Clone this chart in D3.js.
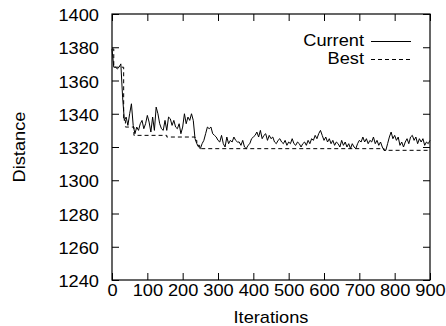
<!DOCTYPE html>
<html>
<head>
<meta charset="utf-8">
<script src="https://cdn.jsdelivr.net/npm/d3@7"></script>
<style>
  html, body { margin: 0; padding: 0; background: #fff; }
  text { font-family: "Liberation Sans", Arial, Helvetica, sans-serif; }
</style>
</head>
<body>
<div id="chart"></div>
<script>
const iterTicks = [0, 100, 200, 300, 400, 500, 600, 700, 800, 900];
const distTicks = [1240, 1260, 1280, 1300, 1320, 1340, 1360, 1380, 1400];

// current distance, sampled every 5 iterations
const currentIters = d3.range(0, 901, 5);
const currentValues = [
    1379, 1368, 1368, 1367, 1368, 1370, 1350, 1336, 1338, 1333,
    1340, 1346, 1333, 1328, 1332, 1330, 1334, 1336, 1331, 1334,
    1339, 1335, 1329, 1338, 1330, 1344, 1340, 1334, 1331, 1330,
    1336, 1330, 1338, 1337, 1333, 1336, 1332, 1331, 1334, 1328,
    1332, 1340, 1334, 1338, 1336, 1340, 1336, 1325, 1322, 1320,
    1319, 1322, 1324, 1328, 1332, 1331, 1332, 1328, 1327, 1326,
    1324, 1323, 1327, 1322, 1320, 1326, 1322, 1324, 1323, 1326,
    1324, 1323, 1323, 1321, 1324, 1320, 1319, 1321, 1322, 1325,
    1326, 1327, 1329, 1326, 1330, 1325, 1327, 1328, 1324, 1327,
    1325, 1326, 1323, 1322, 1324, 1325, 1323, 1322, 1324, 1321,
    1323, 1322, 1325, 1322, 1321, 1323, 1322, 1320, 1322, 1323,
    1321, 1324, 1322, 1325, 1324, 1327, 1325, 1328, 1330, 1327,
    1324, 1326, 1323, 1325, 1322, 1324, 1321, 1323, 1322, 1320,
    1324, 1321, 1323, 1320, 1322, 1319, 1322, 1320, 1319, 1322,
    1324, 1323, 1326, 1323, 1325, 1322, 1324, 1323, 1326, 1322,
    1324, 1321, 1323, 1320, 1318, 1318, 1322, 1326, 1329, 1325,
    1327, 1324, 1326, 1321, 1323, 1320, 1323, 1325, 1322, 1326,
    1327, 1324, 1326, 1322, 1325, 1323, 1325, 1321, 1323, 1322,
    1324
];

// best distance so far (step changes)
const bestIters = [0, 5, 33, 38, 62, 155, 235, 240, 248, 770, 900];
const bestValues = [1379, 1368, 1336, 1332, 1327, 1326, 1324, 1321, 1319, 1318, 1318];

const W = 446, H = 326;
const margin = { top: 14, right: 16, bottom: 46, left: 112 };
const width = W - margin.left - margin.right;
const height = H - margin.top - margin.bottom;
const stretch = "scale(1.14,1)";

const svg = d3.select("#chart")
    .append("svg")
    .attr("width", W)
    .attr("height", H)
    .append("g")
    .attr("transform", "translate(" + margin.left + "," + margin.top + ")");

const x = d3.scaleLinear().domain([0, 900]).range([0, width]);
const y = d3.scaleLinear().domain([1240, 1400]).range([height, 0]);

// axes, ticks pointing inwards on all four sides
const xAxis = svg.append("g")
    .attr("transform", "translate(0," + height + ")")
    .call(d3.axisBottom(x).tickValues(iterTicks).tickSizeInner(-7).tickSizeOuter(0).tickFormat(d3.format("d")));
xAxis.selectAll("text")
    .attr("y", 16).attr("dy", null)
    .attr("transform", stretch);

svg.append("g")
    .call(d3.axisTop(x).tickValues(iterTicks).tickSizeInner(-7).tickSizeOuter(0).tickFormat(""));

const yAxis = svg.append("g")
    .call(d3.axisLeft(y).tickValues(distTicks).tickSizeInner(-7).tickSizeOuter(0).tickFormat(d3.format("d")));
yAxis.selectAll("text")
    .attr("x", -13 / 1.14).attr("dy", null).attr("y", 6.5)
    .attr("transform", stretch);

svg.append("g")
    .attr("transform", "translate(" + width + ",0)")
    .call(d3.axisRight(y).tickValues(distTicks).tickSizeInner(-7).tickSizeOuter(0).tickFormat(""));

svg.selectAll(".domain").remove();
svg.selectAll(".tick line").attr("stroke", "#000");
svg.selectAll(".tick text").style("font-size", "16px").attr("fill", "#000");

svg.append("rect")
    .attr("width", width)
    .attr("height", height)
    .attr("fill", "none")
    .attr("stroke", "#000")
    .attr("stroke-width", 1.2);

// axis labels
svg.append("text")
    .attr("transform", "translate(" + (width / 2) + "," + (H - margin.top - 3) + ") " + stretch)
    .attr("text-anchor", "middle")
    .style("font-size", "16px")
    .text("Iterations");

svg.append("text")
    .attr("transform", "translate(" + (25 - margin.left) + "," + (height / 2) + ") rotate(-90) " + stretch)
    .attr("text-anchor", "middle")
    .style("font-size", "16px")
    .text("Distance");

// series
const lineCur = d3.line()
    .x((d, i) => x(currentIters[i]))
    .y(d => y(d));

svg.append("path")
    .datum(currentValues)
    .attr("fill", "none")
    .attr("stroke", "#000")
    .attr("stroke-width", 1)
    .attr("d", lineCur);

const lineBest = d3.line()
    .x((d, i) => x(bestIters[i]))
    .y(d => y(d))
    .curve(d3.curveStepAfter);

svg.append("path")
    .datum(bestValues)
    .attr("fill", "none")
    .attr("stroke", "#000")
    .attr("stroke-width", 1)
    .attr("stroke-dasharray", "4,3")
    .attr("d", lineBest);

// legend
const legend = [
    { label: "Current", dash: null, yPos: 28 },
    { label: "Best", dash: "4,3", yPos: 46 }
];
legend.forEach(l => {
    svg.append("text")
        .attr("transform", "translate(" + (364 - margin.left) + "," + (l.yPos + 4) + ") " + stretch)
        .attr("text-anchor", "end")
        .style("font-size", "16px")
        .text(l.label);
    svg.append("line")
        .attr("x1", 371 - margin.left)
        .attr("x2", 411 - margin.left)
        .attr("y1", l.yPos - 0.5)
        .attr("y2", l.yPos - 0.5)
        .attr("stroke", "#000")
        .attr("stroke-width", 1)
        .attr("stroke-dasharray", l.dash);
});
</script>
</body>
</html>
